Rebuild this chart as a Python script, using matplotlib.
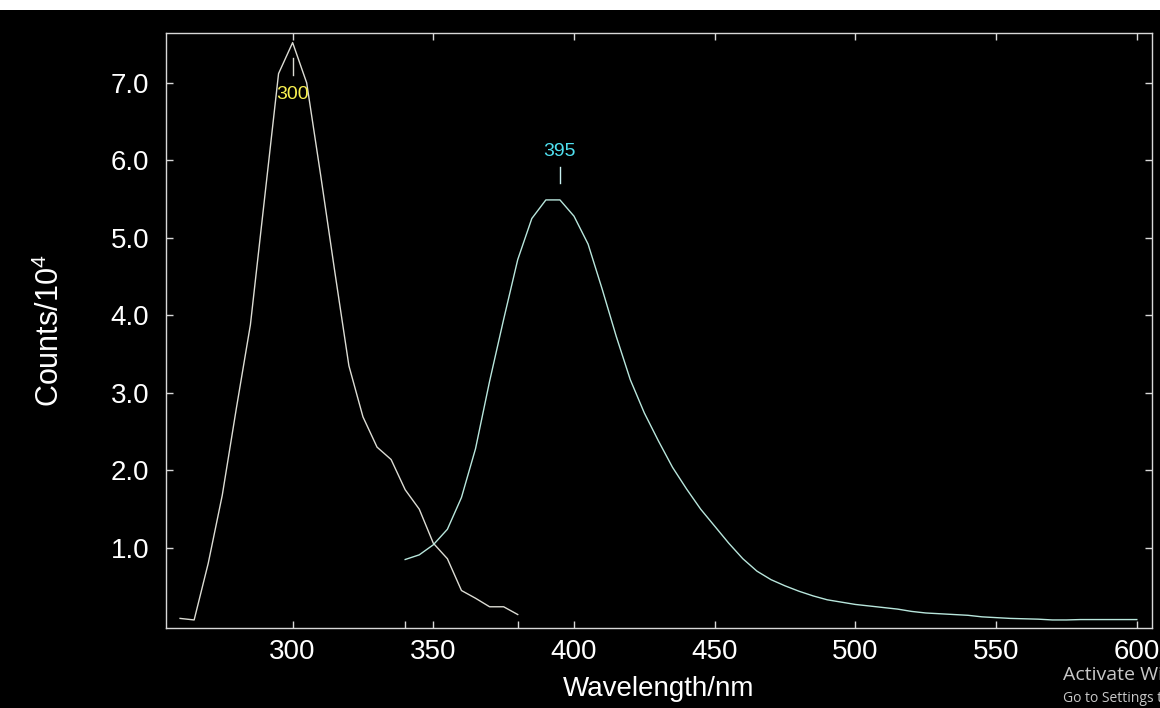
import matplotlib
matplotlib.use("Agg")
import matplotlib.pyplot as plt
from matplotlib.patches import Rectangle
from matplotlib.ticker import FormatStrFormatter

# ---- data ----
ex_wl = [260, 265, 270, 275, 280, 285, 290, 295, 300, 305, 310, 315, 320, 325,
         330, 335, 340, 345, 350, 355, 360, 365, 370, 375, 380]
ex_val = [0.09, 0.07, 0.80, 1.68, 2.80, 3.88, 5.50, 7.12, 7.52, 7.00, 5.80, 4.56,
          3.35, 2.69, 2.30, 2.14, 1.75, 1.50, 1.06, 0.86, 0.45, 0.35, 0.24, 0.24, 0.14]

em_wl = [340, 345, 350, 355, 360, 365, 370, 375, 380, 385, 390, 395, 400, 405,
         410, 415, 420, 425, 430, 435, 440, 445, 450, 455, 460, 465, 470, 475,
         480, 485, 490, 495, 500, 505, 510, 515, 520, 525, 530, 535, 540, 545,
         550, 555, 560, 565, 570, 575, 580, 585, 590, 595, 600]
em_val = [0.85, 0.91, 1.04, 1.24, 1.65, 2.28, 3.15, 3.95, 4.72, 5.25, 5.49, 5.49,
          5.28, 4.92, 4.34, 3.73, 3.17, 2.74, 2.38, 2.04, 1.76, 1.50, 1.28, 1.06,
          0.86, 0.70, 0.59, 0.51, 0.44, 0.38, 0.33, 0.30, 0.27, 0.25, 0.23, 0.21,
          0.18, 0.16, 0.15, 0.14, 0.13, 0.11, 0.10, 0.09, 0.085, 0.08, 0.07, 0.07,
          0.075, 0.075, 0.075, 0.075, 0.075]

x_ticks = [300, 350, 400, 450, 500, 550, 600]
y_ticks = [1.0, 2.0, 3.0, 4.0, 5.0, 6.0, 7.0]
marker_ticks = [340, 380]
ex_peak = (300, 7.52)
em_peak = (395, 5.49)
ex_label = "300"
em_label = "395"

plt.rcParams['font.family'] = ['Liberation Sans', 'DejaVu Sans']
plt.rcParams['mathtext.fontset'] = 'custom'
plt.rcParams['mathtext.rm'] = 'Liberation Sans'
plt.rcParams['mathtext.default'] = 'regular'

fig = plt.figure(figsize=(11.6, 7.08), dpi=100, facecolor='black')
# white strip at top (screenshot border)
fig.patches.append(Rectangle((0, 1 - 10 / 708), 1, 10 / 708, transform=fig.transFigure,
                             facecolor='white', edgecolor='none', zorder=0))

ax = fig.add_axes([166 / 1160, 1 - 627.7 / 708, (1151.7 - 166) / 1160, (627.7 - 33.3) / 708])
ax.set_facecolor('black')

ex_color = '#dcdcd4'
em_color = '#b8e6dc'
ax.plot(ex_wl, ex_val, color=ex_color, lw=1.0)
ax.plot(em_wl, em_val, color=em_color, lw=1.0)

ax.set_xlim(255, 605.3)
ax.set_ylim(-0.03, 7.64)

spine_c = '#d8d8d8'
for s in ax.spines.values():
    s.set_color(spine_c)
    s.set_linewidth(1.0)

ax.set_xticks(x_ticks)
ax.set_yticks(y_ticks)
ax.yaxis.set_major_formatter(FormatStrFormatter('%.1f'))
ax.set_xticks(marker_ticks, minor=True)
ax.tick_params(which='major', direction='in', length=5, width=1, color=spine_c,
               top=True, right=True, labelsize=20, labelcolor='white')
ax.tick_params(axis='x', which='major', pad=8)
ax.tick_params(axis='y', which='major', pad=12)
ax.tick_params(axis='x', which='minor', direction='in', length=5, width=1,
               color=spine_c, top=False, bottom=True)

ax.set_xlabel('Wavelength/nm', color='white', fontsize=20, labelpad=8)
ax.set_ylabel('Counts/10$^4$', color='white', fontsize=22, labelpad=32)

# peak annotations
ax.plot([ex_peak[0], ex_peak[0]], [7.10, 7.32], color=ex_color, lw=1.0)
ax.text(ex_peak[0], 6.85, ex_label, color='#f8f050', fontsize=14,
        ha='center', va='center')
ax.plot([em_peak[0], em_peak[0]], [5.71, 5.92], color='#c8f0f0', lw=1.0)
ax.text(em_peak[0], 6.11, em_label, color='#50e0f0', fontsize=14,
        ha='center', va='center')

# screenshot watermark text (cut off by the right edge, as in the screenshot)
fig.text(1063 / 1160, 1 - 675 / 708, 'Activate Windows', color='#c8c8c8',
         fontsize=14, family=['Open Sans', 'DejaVu Sans'], ha='left', va='center')
fig.text(1063 / 1160, 1 - 698 / 708, 'Go to Settings to activate Windows.',
         color='#c8c8c8', fontsize=10, family=['Open Sans', 'DejaVu Sans'],
         ha='left', va='center')

fig.savefig('out.png', dpi=100, facecolor='black')
